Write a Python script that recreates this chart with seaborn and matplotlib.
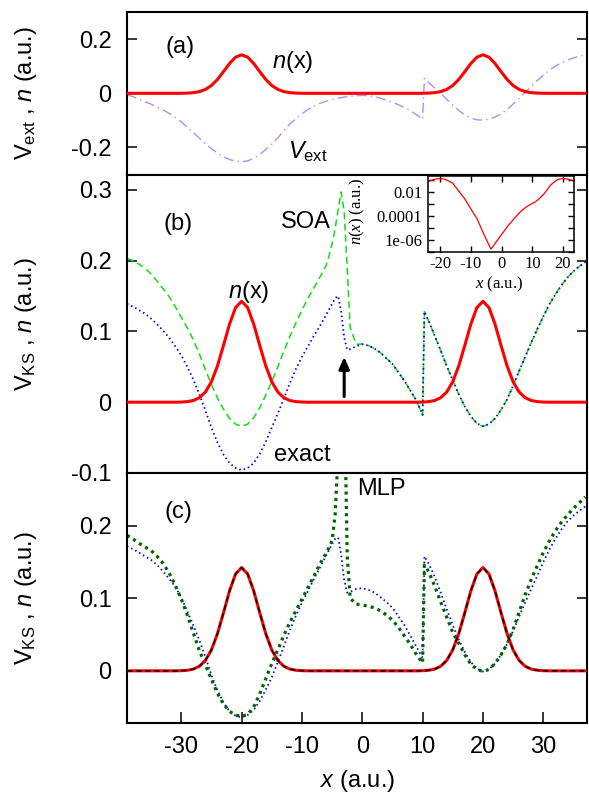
import numpy as np
import pandas as pd
import seaborn as sns
import matplotlib.pyplot as plt

# positions (a.u.), a bit finer round the step near x=-4 and the jump at x=10
x_grid = [-39, -38, -37, -36, -35, -34, -33, -32, -31, -30,
          -29, -28, -27, -26, -25, -24, -23, -22, -21, -20,
          -19, -18, -17, -16, -15, -14, -13, -12, -11, -10,
          -9, -8, -7, -6, -5.5, -5, -4.5, -4, -3.5, -3, -2.5,
          -2, -1, 0, 1, 2, 3, 4, 5, 6, 7,
          8, 9, 10, 10.3, 11, 12, 13, 14, 15, 16,
          17, 18, 19, 20, 21, 22, 23, 24, 25, 26,
          27, 28, 29, 30, 31, 32, 33, 34, 35, 36, 37]

# density n(x)
n_dens = [0, 0, 0, 0, 0, 0, 0, 0, 0, 0.0002,
          0.0008, 0.0024, 0.0063, 0.0144, 0.0289, 0.0514, 0.0803, 0.1104, 0.1337, 0.1425,
          0.1337, 0.1104, 0.0803, 0.0514, 0.0289, 0.0144, 0.0063, 0.0024, 0.0008, 0.0002,
          0, 0, 0, 0, 0, 0, 0, 0, 0, 0, 0,
          0, 0, 0, 0, 0, 0, 0, 0, 0, 0,
          0, 0, 0.0002, 0.0003, 0.0008, 0.0024, 0.0063, 0.0144, 0.0289, 0.0514,
          0.0803, 0.1104, 0.1337, 0.1425, 0.1337, 0.1104, 0.0803, 0.0514, 0.0289, 0.0144,
          0.0063, 0.0024, 0.0008, 0.0002, 0, 0, 0, 0, 0, 0, 0]

# external potential, panel (a)
v_ext = [-0.006, -0.012, -0.022, -0.031, -0.040, -0.051, -0.062, -0.074, -0.089, -0.106,
         -0.126, -0.145, -0.166, -0.186, -0.205, -0.221, -0.235, -0.245, -0.251, -0.253,
         -0.250, -0.240, -0.226, -0.208, -0.188, -0.165, -0.138, -0.113, -0.094, -0.076,
         -0.060, -0.047, -0.037, -0.029, -0.026, -0.023, -0.020, -0.018, -0.016, -0.014, -0.012,
         -0.011, -0.009, -0.008, -0.009, -0.012, -0.018, -0.025, -0.033, -0.042, -0.053,
         -0.065, -0.079, -0.096, 0.055, 0.040, 0.020, 0.000, -0.022, -0.043, -0.063,
         -0.080, -0.092, -0.098, -0.099, -0.096, -0.088, -0.076, -0.060, -0.040, -0.019,
         0.003, 0.025, 0.047, 0.067, 0.085, 0.100, 0.113, 0.123, 0.131, 0.137, 0.142]

# exact KS potential, panel (b)
vks_exact_b = [0.139, 0.135, 0.130, 0.125, 0.118, 0.110, 0.101, 0.091, 0.079, 0.066,
               0.050, 0.032, 0.011, -0.012, -0.036, -0.057, -0.074, -0.086, -0.093, -0.096,
               -0.093, -0.086, -0.073, -0.056, -0.036, -0.016, 0.005, 0.027, 0.047, 0.064,
               0.079, 0.094, 0.108, 0.123, 0.131, 0.139, 0.147, 0.150, 0.128, 0.092, 0.074,
               0.075, 0.079, 0.082, 0.080, 0.076, 0.070, 0.062, 0.054, 0.042, 0.030,
               0.016, 0.002, -0.018, 0.128, 0.115, 0.094, 0.073, 0.051, 0.031, 0.011,
               -0.006, -0.020, -0.030, -0.034, -0.031, -0.023, -0.011, 0.004, 0.023, 0.044,
               0.064, 0.084, 0.103, 0.121, 0.138, 0.152, 0.165, 0.176, 0.185, 0.192, 0.198]

# SOA potential, panel (b)
vks_soa = [0.203, 0.200, 0.195, 0.189, 0.181, 0.171, 0.160, 0.149, 0.135, 0.120,
           0.105, 0.088, 0.068, 0.046, 0.025, 0.006, -0.010, -0.023, -0.031, -0.034,
           -0.031, -0.022, -0.008, 0.010, 0.029, 0.050, 0.072, 0.093, 0.112, 0.130,
           0.147, 0.162, 0.177, 0.193, 0.207, 0.224, 0.245, 0.272, 0.297, 0.270, 0.190,
           0.105, 0.082, 0.082, 0.080, 0.076, 0.070, 0.062, 0.054, 0.042, 0.030,
           0.016, 0.002, -0.018, 0.128, 0.115, 0.094, 0.073, 0.051, 0.031, 0.011,
           -0.006, -0.020, -0.030, -0.034, -0.031, -0.023, -0.011, 0.004, 0.023, 0.044,
           0.064, 0.084, 0.103, 0.121, 0.138, 0.152, 0.165, 0.176, 0.185, 0.192, 0.198]

# exact KS potential, panel (c)
vks_exact_c = [0.172, 0.168, 0.163, 0.158, 0.153, 0.146, 0.137, 0.127, 0.116, 0.101,
               0.082, 0.063, 0.042, 0.019, -0.006, -0.027, -0.044, -0.056, -0.062, -0.064,
               -0.061, -0.054, -0.042, -0.026, -0.009, 0.012, 0.034, 0.056, 0.076, 0.094,
               0.110, 0.127, 0.143, 0.159, 0.167, 0.175, 0.182, 0.184, 0.160, 0.125, 0.108,
               0.109, 0.113, 0.114, 0.112, 0.108, 0.102, 0.095, 0.087, 0.075, 0.063,
               0.048, 0.033, 0.018, 0.158, 0.148, 0.130, 0.108, 0.085, 0.063, 0.043,
               0.026, 0.012, 0.003, -0.001, 0.002, 0.010, 0.022, 0.037, 0.055, 0.075,
               0.094, 0.113, 0.131, 0.150, 0.167, 0.182, 0.195, 0.206, 0.214, 0.221, 0.227]

# MLP potential, panel (c)
vks_mlp = [0.187, 0.182, 0.176, 0.171, 0.166, 0.158, 0.148, 0.135, 0.118, 0.099,
           0.077, 0.052, 0.028, 0.008, -0.012, -0.031, -0.046, -0.056, -0.061, -0.063,
           -0.060, -0.050, -0.032, -0.011, 0.010, 0.029, 0.049, 0.067, 0.083, 0.099,
           0.115, 0.131, 0.148, 0.162, 0.170, 0.180, 0.215, 0.300, 0.450, 0.400, 0.160,
           0.100, 0.092, 0.091, 0.089, 0.087, 0.083, 0.077, 0.070, 0.060, 0.048,
           0.036, 0.022, 0.011, 0.146, 0.137, 0.117, 0.095, 0.074, 0.053, 0.038,
           0.022, 0.009, 0.002, -0.001, 0.002, 0.010, 0.022, 0.037, 0.057, 0.081,
           0.105, 0.126, 0.145, 0.163, 0.179, 0.193, 0.205, 0.215, 0.224, 0.232, 0.240]

# inset: density on log scale
x_inset = [-24, -23, -22, -21, -20, -19, -18, -16, -14, -12,
           -10, -8, -6, -4.5, -3.5, -3, -2, 0, 2, 4,
           6, 8, 10, 11, 12, 14, 16, 18, 19, 20,
           21, 22, 23, 24]
n_inset = [0.08, 0.10, 0.12, 0.136, 0.142, 0.135, 0.11, 0.06, 0.013, 0.0028,
           4e-4, 6e-5, 4e-6, 6e-7, 1.8e-7, 2.5e-7, 6e-7, 3e-6, 1.5e-5, 6e-5,
           2.2e-4, 6e-4, 1.2e-3, 1.6e-3, 2.6e-3, 8.5e-3, 0.042, 0.11, 0.135, 0.142,
           0.136, 0.12, 0.10, 0.08]

sns.set_style('ticks')
plt.rcParams['font.family'] = ['Liberation Sans', 'DejaVu Sans']
plt.rcParams['mathtext.fontset'] = 'custom'
plt.rcParams['mathtext.rm'] = 'Liberation Sans'
plt.rcParams['mathtext.it'] = 'Liberation Sans:italic'
plt.rcParams['mathtext.sf'] = 'Liberation Serif:italic'
plt.rcParams['lines.scale_dashes'] = False
for k in ('text.color', 'axes.labelcolor', 'xtick.color', 'ytick.color', 'axes.edgecolor'):
    plt.rcParams[k] = 'black'

FS = 17


def curve(ax, x, y, color, lw, dashes=None, z=2):
    sns.lineplot(x=x, y=y, ax=ax, color=color, sort=False, estimator=None)
    ln = ax.lines[-1]
    ln.set_linewidth(lw)
    ln.set_zorder(z)
    if dashes:
        ln.set_dashes(dashes)
    return ln


fig = plt.figure(figsize=(5.89, 7.96), dpi=100)
L, W = 0.2156, 0.7815
ax_a = fig.add_axes([L, 0.7802, W, 0.2048])
ax_b = fig.add_axes([L, 0.4058, W, 0.3744])
ax_c = fig.add_axes([L, 0.0917, W, 0.3141])

# (a)
curve(ax_a, x_grid, v_ext, '#b48cf0', 1.0, (7, 3, 1, 3))
curve(ax_a, x_grid, n_dens, '#ff0000', 2.2, z=3)
ax_a.set_ylim(-0.302, 0.301)
ax_a.set_yticks([-0.2, 0, 0.2], ['-0.2', '0', '0.2'])
ax_a.text(-30.2, 0.171, '(a)', ha='center', va='center', fontsize=FS)
ax_a.text(-11.6, 0.116, r'$n$(x)', ha='center', va='center', fontsize=FS)
ax_a.text(-12.3, -0.24, r'$V_{\mathrm{ext}}$', ha='left', va='baseline', fontsize=FS)
ax_a.set_ylabel(r'$\mathrm{V}_{\mathrm{ext}}$ , $n$ (a.u.)', fontsize=FS)

# (b)
curve(ax_b, x_grid, vks_soa, '#11dd11', 1.1, (5, 3))
curve(ax_b, x_grid, vks_exact_b, '#0000ee', 1.3, (1.1, 2.2), z=2.5)
curve(ax_b, x_grid, n_dens, '#ff0000', 2.2, z=3)
ax_b.set_ylim(-0.1, 0.321)
ax_b.set_yticks([-0.1, 0, 0.1, 0.2, 0.3], ['-0.1', '0', '0.1', '0.2', '0.3'])
ax_b.text(-30.5, 0.252, '(b)', ha='center', va='center', fontsize=FS)
ax_b.text(-9.4, 0.254, 'SOA', ha='center', va='center', fontsize=FS)
ax_b.text(-18.8, 0.156, r'$n$(x)', ha='center', va='center', fontsize=FS)
ax_b.text(-9.9, -0.075, 'exact', ha='center', va='center', fontsize=FS)
ax_b.annotate('', xy=(-3, 0.064), xytext=(-3, 0.008),
              arrowprops=dict(arrowstyle='-|>,head_length=0.5,head_width=0.22',
                              color='black', lw=2.2, mutation_scale=14,
                              shrinkA=0, shrinkB=0))
ax_b.set_ylabel(r'$\mathrm{V}_{\mathrm{KS}}$ , $n$ (a.u.)', fontsize=FS)

# (c)
curve(ax_c, x_grid, vks_exact_c, '#0000ee', 1.3, (1.1, 2.2))
curve(ax_c, x_grid, vks_mlp, '#006400', 2.3, (2.2, 3.0), z=2.5)
curve(ax_c, x_grid, n_dens, '#ff0000', 2.2, z=3)
curve(ax_c, x_grid, n_dens, '#000000', 1.1, (4, 2.5), z=3.5)
ax_c.set_ylim(-0.072, 0.273)
ax_c.set_yticks([0, 0.1, 0.2], ['0', '0.1', '0.2'])
ax_c.set_xticks([-30, -20, -10, 0, 10, 20, 30], ['-30', '-20', '-10', '0', '10', '20', '30'])
ax_c.text(-30.5, 0.219, '(c)', ha='center', va='center', fontsize=FS)
ax_c.text(3.1, 0.251, 'MLP', ha='center', va='center', fontsize=FS)
ax_c.set_ylabel(r'$\mathrm{V}_{\mathrm{KS}}$ , $n$ (a.u.)', fontsize=FS)
ax_c.set_xlabel(r'$x$ (a.u.)', fontsize=FS)
ax_c.xaxis.set_label_coords(0.5, -0.178)

for ax in (ax_a, ax_b, ax_c):
    ax.set_xlim(-39, 37.3)
    ax.tick_params(axis='y', direction='in', length=7, width=1.1, left=True, right=True,
                   labelsize=FS, pad=11)
    ax.tick_params(axis='x', direction='in', length=8, width=1.1, bottom=True, top=False,
                   labelsize=FS, pad=9)
    for s in ax.spines.values():
        s.set_visible(True)
        s.set_linewidth(1.5)
        s.set_edgecolor('black')
    ax.yaxis.set_label_coords(-0.191, 0.5)
    ax.set_facecolor('white')
for ax in (ax_a, ax_b):
    ax.tick_params(axis='x', bottom=False, labelbottom=False)
    ax.set_xlabel('')

# inset
ax_in = fig.add_axes([0.7267, 0.6834, 0.2479, 0.0955])
ax_in.set_yscale('log')
curve(ax_in, x_inset, n_inset, '#ff0000', 0.9)
ax_in.set_xlim(-24, 23.6)
ax_in.set_ylim(1.1e-7, 0.235)
ax_in.set_yticks([1e-7, 1e-6, 1e-5, 1e-4, 1e-3, 1e-2, 1e-1],
                 ['', '1e-06', '', '0.0001', '', '0.01', ''],
                 fontfamily='Liberation Serif', fontsize=12)
ax_in.yaxis.set_minor_locator(plt.NullLocator())
ax_in.set_xticks([-20, -10, 0, 10, 20], ['-20', '-10', '0', '10', '20'],
                 fontfamily='Liberation Serif', fontsize=12)
ax_in.tick_params(axis='both', direction='in', length=4, width=1.0,
                  left=True, right=True, top=True, bottom=True)
ax_in.tick_params(axis='x', pad=3)
ax_in.tick_params(axis='y', pad=4)
for s in ax_in.spines.values():
    s.set_visible(True)
    s.set_linewidth(1.1)
    s.set_edgecolor('black')
ax_in.set_xlabel(r'$\mathsf{x}$ (a.u.)', fontfamily='Liberation Serif', fontsize=12)
ax_in.set_ylabel(r'$\mathsf{n}$($\mathsf{x}$) (a.u.)', fontfamily='Liberation Serif', fontsize=12)
ax_in.xaxis.set_label_coords(0.486, -0.30)
ax_in.yaxis.set_label_coords(-0.418, 0.54)

fig.savefig('out.png', dpi=100)
